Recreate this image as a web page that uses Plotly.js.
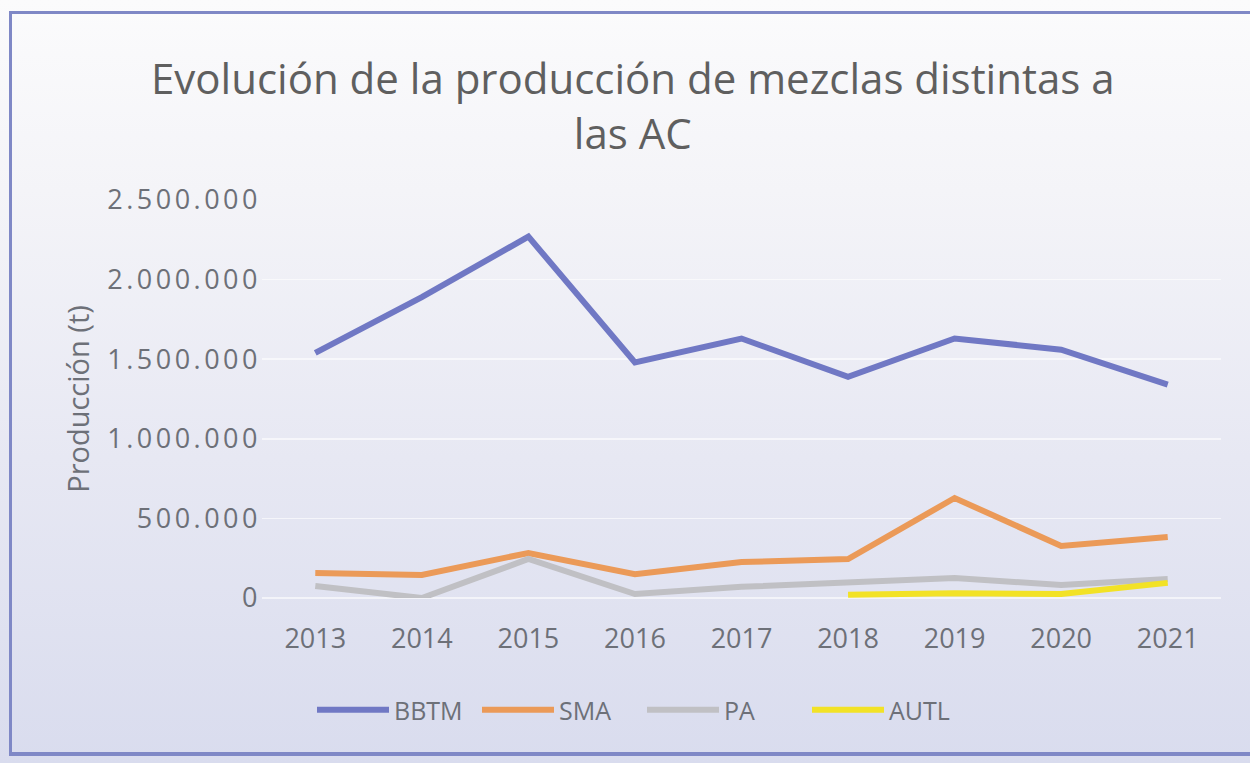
<!DOCTYPE html>
<html><head><meta charset="utf-8">
<script src="https://cdn.plot.ly/plotly-3.0.1.min.js"></script>
<style>
html,body{margin:0;padding:0;}
#wrap{position:relative;width:1250px;height:763px;background:linear-gradient(to bottom,#fbfbfc 0%,#f4f4f8 25%,#e7e8f3 60%,#d9dcee 100%);}
#chart{position:absolute;left:0;top:0;width:1250px;height:763px;}
#frame{position:absolute;left:9px;top:11px;width:1250px;height:738px;border-left:3px solid #7f88c6;border-top:3px solid #7f88c6;border-bottom:4px solid #7f88c6;pointer-events:none;}
#chart .ytick text{letter-spacing:3.5px;}
</style></head>
<body><div id="wrap"><div id="chart"></div><div id="frame"></div></div>
<script>
const years = ['2013','2014','2015','2016','2017','2018','2019','2020','2021'];
const bbtm = [1540000,1890000,2270000,1480000,1630000,1390000,1630000,1560000,1340000];
const sma  = [157000,145000,283000,150000,226000,245000,628000,327000,383000];
const pa   = [75000,0,245000,25000,70000,100000,125000,82000,120000];
const autlYears = ['2018','2019','2020','2021'];
const autl = [20000,30000,25000,95000];
const titleText = 'Evolución de la producción de mezclas distintas a<br>las AC';

const font = 'Open Sans, Lato, sans-serif';
const gray = '#5f5f5f';
const tickGray = '#6d7078';
const traces = [
  {x:years,y:bbtm,name:'BBTM',type:'scatter',mode:'lines',line:{color:'#7078c4',width:6}},
  {x:years,y:sma,name:'SMA',type:'scatter',mode:'lines',line:{color:'#eb9a58',width:6}},
  {x:years,y:pa,name:'PA',type:'scatter',mode:'lines',line:{color:'#c0c0c4',width:6}},
  {x:autlYears,y:autl,name:'AUTL',type:'scatter',mode:'lines',line:{color:'#f2e226',width:6}}
];
const layout = {
  width:1250,height:763,
  paper_bgcolor:'rgba(0,0,0,0)',plot_bgcolor:'rgba(0,0,0,0)',
  margin:{l:262,r:29,t:200,b:165},
  separators:',.',
  font:{family:font,color:gray},
  annotations:[{text:titleText,xref:'paper',yref:'paper',x:(633-262)/959,y:(598-105)/398,xanchor:'center',yanchor:'middle',showarrow:false,font:{family:font,size:42,color:gray},align:'center'}],
  xaxis:{type:'category',categoryorder:'array',categoryarray:years,range:[-0.5,8.5],showgrid:false,zeroline:false,showline:false,ticks:'',tickfont:{size:27,color:tickGray},ticklabelstandoff:22},
  yaxis:{range:[0,2500000],tickvals:[0,500000,1000000,1500000,2000000,2500000],tickformat:',.0f',showgrid:true,gridcolor:'rgba(255,255,255,0.6)',gridwidth:1.5,zeroline:true,zerolinecolor:'rgba(255,255,255,0.6)',zerolinewidth:1.5,showline:false,tickfont:{size:27,color:tickGray},
    title:{text:'Producción (t)',font:{size:29,color:tickGray},standoff:40}},
  legend:{orientation:'h',x:(642-262)/959,xanchor:'center',y:(598-710)/398,yanchor:'middle',font:{size:25,color:tickGray},bgcolor:'rgba(0,0,0,0)',itemwidth:72,entrywidth:78,entrywidthmode:'pixels'},
  showlegend:true
};
Plotly.newPlot('chart',traces,layout,{displayModeBar:false,staticPlot:true});
</script></body></html>
